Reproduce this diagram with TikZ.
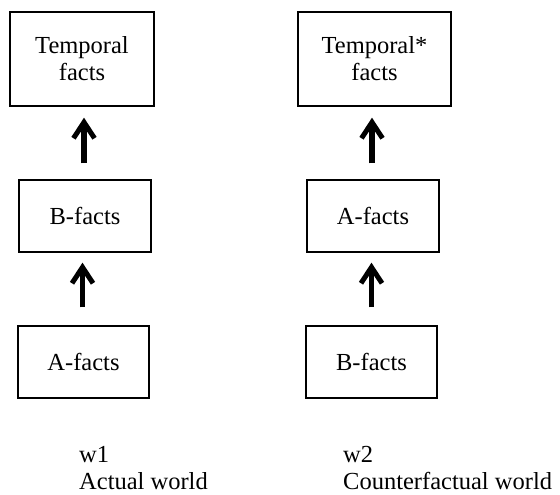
\documentclass[tikz,border=0pt]{standalone}
\usepackage{fontspec}
\setmainfont{Liberation Serif}
\usetikzlibrary{arrows.meta}
\begin{document}
\begin{tikzpicture}[x=1pt,y=-1pt,
  font=\fontsize{24.5}{27}\selectfont,
  factbox/.style={draw, line width=1.4pt, align=center, inner sep=0pt},
  uparrow/.style={line width=5.5pt, -{Straight Barb[length=16pt,width=21pt,line width=5pt]}},
  caption/.style={anchor=base west, inner sep=0pt}]
  \useasboundingbox (0,0) rectangle (560,495);

  % actual world column
  \node[factbox, minimum width=144pt, minimum height=94pt] (t1) at (82,59) {Temporal\\facts};
  \node[factbox, minimum width=132pt, minimum height=72pt] (b1) at (85,216) {B-facts};
  \node[factbox, minimum width=131pt, minimum height=72pt] (a1) at (83.5,362) {A-facts};

  % counterfactual world column
  \node[factbox, minimum width=153pt, minimum height=94pt] (t2) at (374.5,59) {Temporal*\\facts};
  \node[factbox, minimum width=132pt, minimum height=72pt] (a2) at (373,216) {A-facts};
  \node[factbox, minimum width=131pt, minimum height=72pt] (b2) at (371.5,362) {B-facts};

  % grounding arrows
  \draw[uparrow, shorten <=16pt, shorten >=11pt] ([xshift=-1pt]b1.north) -- ([xshift=-1pt]b1.north |- t1.south);
  \draw[uparrow, shorten <=18pt, shorten >=10pt] ([xshift=-1pt]a1.north) -- ([xshift=-1pt]a1.north |- b1.south);
  \draw[uparrow, shorten <=16pt, shorten >=11pt] ([xshift=-1pt]a2.north) -- ([xshift=-1pt]a2.north |- t2.south);
  \draw[uparrow, shorten <=18pt, shorten >=10pt] (b2.north) -- (b2.north |- a2.south);

  % world captions
  \node[caption] (w1) at (79,462) {w1};
  \node[caption] (aw) at (79,489) {Actual world};
  \node[caption] (w2) at (343,462) {w2};
  \node[caption] (cw) at (343,489) {Counterfactual world};
\end{tikzpicture}
\end{document}
